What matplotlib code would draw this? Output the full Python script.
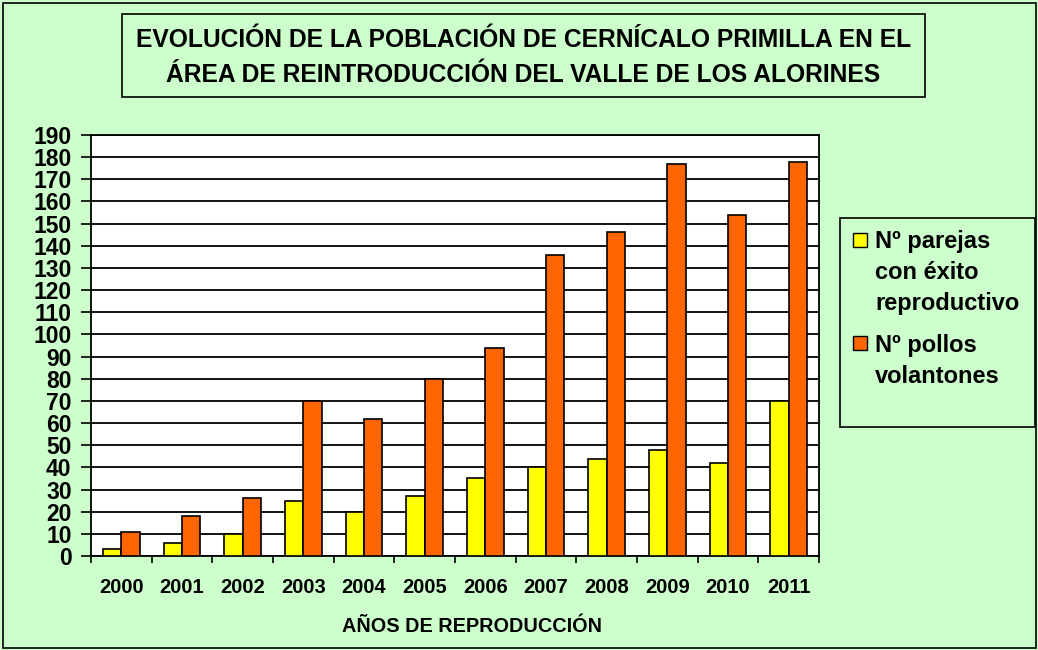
import numpy as np
import matplotlib
matplotlib.use("Agg")
import matplotlib.pyplot as plt
from matplotlib.patches import Rectangle
from matplotlib import font_manager

# ---------------------------------------------------------------------------
# Data
# ---------------------------------------------------------------------------
years = ["2000", "2001", "2002", "2003", "2004", "2005",
         "2006", "2007", "2008", "2009", "2010", "2011"]
parejas = [3, 6, 10, 25, 20, 27, 35, 40, 44, 48, 42, 70]
pollos = [11, 18, 26, 70, 62, 80, 94, 136, 146, 177, 154, 178]
series_names = ["Nº parejas\ncon éxito\nreproductivo", "Nº pollos\nvolantones"]
title_lines = ["EVOLUCIÓN DE LA POBLACIÓN DE CERNÍCALO PRIMILLA EN EL",
               "ÁREA DE REINTRODUCCIÓN DEL VALLE DE LOS ALORINES"]
x_title = "AÑOS DE REPRODUCCIÓN"

W, H = 1038, 650
BG = "#CCFFCC"
YELLOW = "#FFFF00"
ORANGE = "#FF6600"

names = {f.name for f in font_manager.fontManager.ttflist}
NARROW = "Liberation Sans Narrow" if "Liberation Sans Narrow" in names else "Liberation Sans"
plt.rcParams["font.family"] = ["Liberation Sans", "DejaVu Sans"]
plt.rcParams["font.weight"] = "bold"


def fx(px):
    return px / W


def fy(py):
    return 1 - py / H


fig = plt.figure(figsize=(W / 100, H / 100), dpi=100, facecolor=BG)
# outer border
fig.patches.append(Rectangle((fx(3), fy(648)), fx(1033), 645 / H, transform=fig.transFigure,
                             fill=False, edgecolor="black", linewidth=1.2))

left, right, top, bottom = 91, 819, 135, 556
ax = fig.add_axes([fx(left), fy(bottom), fx(right - left), (bottom - top) / H])
ax.set_facecolor("white")

x = np.arange(len(years))
bw = 0.3
ax.bar(x - bw / 2, parejas, bw, color=YELLOW, edgecolor="black", linewidth=1.2, zorder=3)
ax.bar(x + bw / 2, pollos, bw, color=ORANGE, edgecolor="black", linewidth=1.2, zorder=3)

ax.set_xlim(-0.5, len(years) - 0.5)
ax.set_ylim(0, 190)
ax.set_yticks(np.arange(0, 191, 10))
ax.yaxis.grid(True, color="black", linewidth=1.3)
ax.set_axisbelow(True)
ax.tick_params(axis="y", direction="out", length=7, width=1.2, pad=7, labelsize=16.5)

ax.set_xticks(x)
ax.set_xticklabels(years)
ax.set_xticks(np.arange(-0.5, len(years)), minor=True)
ax.tick_params(axis="x", which="major", length=0, pad=16, labelsize=14.5)
ax.tick_params(axis="x", which="minor", direction="out", length=5, width=1.2)
for s in ax.spines.values():
    s.set_color("black")
    s.set_linewidth(1.3)

# x axis title
fig.text(fx(471.5), fy(631.7), x_title, ha="center", va="baseline",
         fontsize=14.3, fontweight="bold")

# title box
fig.patches.append(Rectangle((fx(122), fy(96.5)), fx(925 - 122), (96.5 - 14) / H,
                             transform=fig.transFigure, fill=False,
                             edgecolor="black", linewidth=1.2))
tt = []
for line, base in zip(title_lines, [46.7, 81.7]):
    tt.append(fig.text(fx(523.5), fy(base), line, ha="center", va="baseline",
                       fontsize=21, fontweight="bold", family=NARROW))
fig.canvas.draw()
r = fig.canvas.get_renderer()
wd = tt[0].get_window_extent(r).width
scale = 778 / wd
for t in tt:
    t.set_fontsize(21 * scale)

# legend box
fig.patches.append(Rectangle((fx(840), fy(427)), fx(195), (427 - 218) / H,
                             transform=fig.transFigure, fill=False,
                             edgecolor="black", linewidth=1.2))
colors = [YELLOW, ORANGE]
first_base = [248.3, 351.7]
for name, c, b0 in zip(series_names, colors, first_base):
    fig.patches.append(Rectangle((fx(853), fy(b0 - 1.5)), fx(14), 14 / H,
                                 transform=fig.transFigure, facecolor=c,
                                 edgecolor="black", linewidth=1.0))
    for i, ln in enumerate(name.split("\n")):
        fig.text(fx(875), fy(b0 + i * 31), ln, ha="left", va="baseline",
                 fontsize=17, fontweight="bold")

fig.savefig("out.png", dpi=100, facecolor=BG)
